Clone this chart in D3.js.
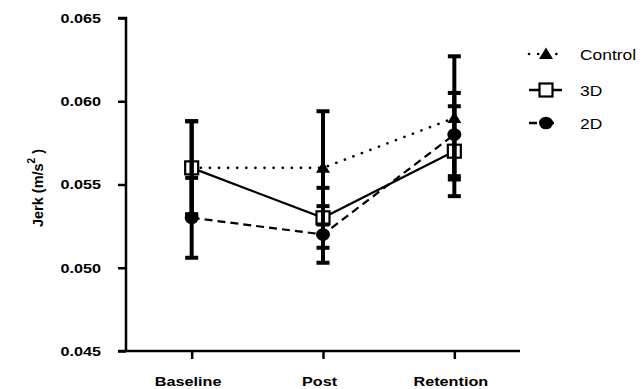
<!DOCTYPE html>
<html>
<head>
<meta charset="utf-8">
<script src="https://cdn.jsdelivr.net/npm/d3@7"></script>
<style>
  body { margin: 0; background: #fff; }
  text { font-family: "Liberation Sans", Arial, sans-serif; }
</style>
</head>
<body>
<div id="chart"></div>
<script>
// values
var phases = ["Baseline", "Post", "Retention"];
var controlMean = [0.056, 0.056, 0.059];
var controlErr = [0.0028, 0.0034, 0.0037];
var threeDMean = [0.056, 0.053, 0.057];
var threeDErr = [0.0028, 0.0018, 0.0027];
var twoDMean = [0.053, 0.052, 0.058];
var twoDErr = [0.0024, 0.0017, 0.0025];
var yTicks = [0.045, 0.050, 0.055, 0.060, 0.065];

var width = 644, height = 389;
var stretch = 1.2; // the original text is a bit wide
var svg = d3.select("#chart").append("svg")
  .attr("width", width).attr("height", height);

var x = d3.scalePoint().domain(phases).range([126, 520]).padding(0.5);
var y = d3.scaleLinear().domain([0.045, 0.065]).range([351, 18]);

var series = [
  { name: "Control", mean: controlMean, err: controlErr, dash: "0.1,9", cap: "round", marker: "triangle" },
  { name: "3D", mean: threeDMean, err: threeDErr, dash: null, cap: "butt", marker: "square" },
  { name: "2D", mean: twoDMean, err: twoDErr, dash: "8,5", cap: "butt", marker: "circle" }
];

function widen(sel) {
  sel.each(function () {
    var w = this.getComputedTextLength();
    d3.select(this).attr("textLength", w * stretch).attr("lengthAdjust", "spacingAndGlyphs");
  });
}

// axes
var yAxis = svg.append("g").attr("transform", "translate(126,0)")
  .call(d3.axisLeft(y).tickValues(yTicks).tickFormat(d3.format(".3f")).tickSize(8).tickPadding(17));
var xAxis = svg.append("g").attr("transform", "translate(0,351)")
  .call(d3.axisBottom(x).tickSize(8).tickPadding(17));
[yAxis, xAxis].forEach(function (g) {
  g.select(".domain").attr("stroke", "#000").attr("stroke-width", 2.5);
  g.selectAll(".tick line").attr("stroke", "#000").attr("stroke-width", 2.5);
  g.selectAll("text").attr("fill", "#000").style("font-size", "13.5px").style("font-weight", "bold");
});
xAxis.selectAll("text").attr("dx", -4);
widen(yAxis.selectAll("text"));
widen(xAxis.selectAll("text"));
xAxis.select(".domain").attr("d", "M118,0H520");
yAxis.select(".domain").attr("d", "M-8,18H0V351");

// y label
var yl = svg.append("text")
  .attr("transform", "translate(43,188) rotate(-90)")
  .attr("text-anchor", "middle")
  .style("font-size", "14.5px").style("font-weight", "bold");
yl.append("tspan").text("Jerk (m/s");
yl.append("tspan").attr("dy", -8).style("font-size", "10px").text("2");
yl.append("tspan").attr("dy", 8).text(" )");

function drawMarker(g, type, cx, cy) {
  if (type === "triangle") {
    g.append("path").attr("d", "M0,-6.5L7,5L-7,5Z")
      .attr("transform", "translate(" + cx + "," + cy + ")").attr("fill", "#000");
  } else if (type === "square") {
    g.append("rect").attr("x", cx - 6.5).attr("y", cy - 6.5).attr("width", 13).attr("height", 13)
      .attr("fill", "#fff").attr("stroke", "#000").attr("stroke-width", 2.2);
  } else {
    g.append("ellipse").attr("cx", cx).attr("cy", cy).attr("rx", 7).attr("ry", 6.3).attr("fill", "#000");
  }
}

var line = d3.line().x(function (d, i) { return x(phases[i]); }).y(function (d) { return y(d); });

var plot = svg.append("g");
series.forEach(function (s) {
  plot.append("path").datum(s.mean).attr("d", line)
    .attr("fill", "none").attr("stroke", "#000")
    .attr("stroke-width", s.marker === "triangle" ? 2.6 : 2.2)
    .attr("stroke-linecap", s.cap)
    .attr("stroke-dasharray", s.dash);
});
series.forEach(function (s) {
  s.mean.forEach(function (m, i) { drawMarker(plot, s.marker, x(phases[i]), y(m)); });
});
// error bars
series.forEach(function (s) {
  s.mean.forEach(function (m, i) {
    var cx = x(phases[i]);
    var lo = y(m - s.err[i]), hi = y(m + s.err[i]);
    plot.append("line").attr("x1", cx).attr("x2", cx).attr("y1", hi).attr("y2", lo)
      .attr("stroke", "#000").attr("stroke-width", 4);
    [lo, hi].forEach(function (yy) {
      plot.append("line").attr("x1", cx - 6.5).attr("x2", cx + 6.5).attr("y1", yy).attr("y2", yy)
        .attr("stroke", "#000").attr("stroke-width", 4);
    });
  });
});

// legend
var legend = svg.append("g");
var legendY = [54, 90, 123];
series.forEach(function (s, i) {
  var ly = legendY[i];
  legend.append("line").attr("x1", 529).attr("x2", 562).attr("y1", ly).attr("y2", ly)
    .attr("stroke", "#000").attr("stroke-width", 2.6)
    .attr("stroke-linecap", s.cap)
    .attr("stroke-dasharray", s.marker === "circle" ? "8,9" : s.dash);
  drawMarker(legend, s.marker, 546, ly);
  legend.append("text").attr("x", 580).attr("y", ly + 5.5)
    .style("font-size", "14.5px").text(s.name);
});
widen(legend.selectAll("text"));
</script>
</body>
</html>
